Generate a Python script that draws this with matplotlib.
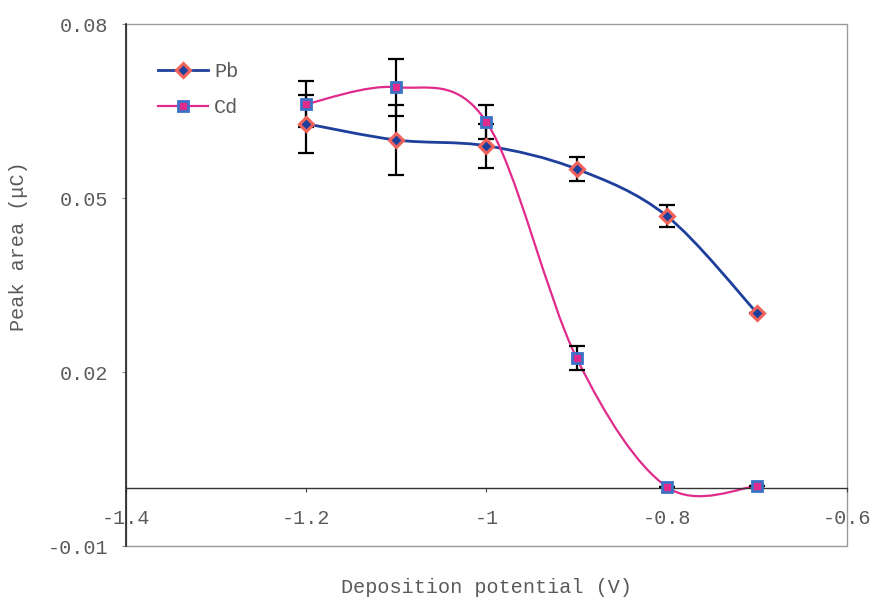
import numpy as np
import matplotlib
matplotlib.use("Agg")
import matplotlib.pyplot as plt
from matplotlib.path import Path
from matplotlib.patches import PathPatch, Rectangle
from matplotlib.lines import Line2D

# data
potential = [-1.2, -1.1, -1.0, -0.9, -0.8, -0.7]
pb_area = [0.0628, 0.0600, 0.0590, 0.0550, 0.0469, 0.0302]
pb_err = [0.0050, 0.0060, 0.0038, 0.0020, 0.0019, 0.0]
cd_area = [0.0662, 0.0691, 0.0631, 0.0224, 0.0002, 0.0003]
cd_err = [0.0040, 0.0049, 0.0030, 0.0020, 0.0, 0.0]

x_ticks = [-1.4, -1.2, -1.0, -0.8, -0.6]
x_labels = ["-1.4", "-1.2", "-1", "-0.8", "-0.6"]
y_ticks = [-0.01, 0.02, 0.05, 0.08]
y_labels = ["-0.01", "0.02", "0.05", "0.08"]

PB_LINE = "#1f3f9c"
PB_EDGE = "#f0625a"
CD_LINE = "#e02a8c"
CD_EDGE = "#3b72c6"
TEXT = "#5a5a5a"
FONT = "Liberation Mono"
FS = 14.5


def smooth_path(xs, ys):
    # Excel-style smoothed line: cubic Bezier with Catmull-Rom control points
    pts = np.column_stack([xs, ys])
    n = len(pts)
    verts = [pts[0]]
    codes = [Path.MOVETO]
    for i in range(n - 1):
        p0 = pts[max(i - 1, 0)]
        p1 = pts[i]
        p2 = pts[i + 1]
        p3 = pts[min(i + 2, n - 1)]
        verts += [p1 + (p2 - p0) / 6, p2 - (p3 - p1) / 6, p2]
        codes += [Path.CURVE4] * 3
    return Path(verts, codes)


fig = plt.figure(figsize=(8.73, 6), dpi=100)
ax = fig.add_axes([126 / 873, 54 / 600, 721 / 873, 522 / 600])
ax.set_xlim(-1.4, -0.6)
ax.set_ylim(-0.01, 0.08)

# plot box
ax.add_patch(Rectangle((0, 0), 1, 1, transform=ax.transAxes, fill=False,
                       edgecolor="#9a9a9a", linewidth=1.0, clip_on=False, zorder=0.5))
for s in ["top", "right"]:
    ax.spines[s].set_visible(False)
ax.spines["left"].set_color("#222222")
ax.spines["left"].set_linewidth(1.2)
ax.spines["bottom"].set_position(("data", 0))
ax.spines["bottom"].set_color("#333333")
ax.spines["bottom"].set_linewidth(1.0)

# smoothed lines
ax.add_patch(PathPatch(smooth_path(potential, pb_area), fill=False,
                       edgecolor=PB_LINE, linewidth=2.0, zorder=2))
ax.add_patch(PathPatch(smooth_path(potential, cd_area), fill=False,
                       edgecolor=CD_LINE, linewidth=1.6, zorder=2))

# error bars
ax.errorbar(potential, pb_area, yerr=pb_err, fmt="none", ecolor="black",
            elinewidth=1.6, capsize=5.5, capthick=1.6, zorder=3)
ax.errorbar(potential, cd_area, yerr=cd_err, fmt="none", ecolor="black",
            elinewidth=1.6, capsize=5.5, capthick=1.6, zorder=3)

# markers
ax.plot(potential, pb_area, linestyle="none", marker="D", markersize=7.5,
        markerfacecolor=PB_LINE, markeredgecolor=PB_EDGE, markeredgewidth=2.2, zorder=4)
ax.plot(potential, cd_area, linestyle="none", marker="s", markersize=7.5,
        markerfacecolor=CD_LINE, markeredgecolor=CD_EDGE, markeredgewidth=2.0, zorder=4)

# ticks
ax.set_xticks(x_ticks)
ax.set_xticklabels(x_labels)
ax.set_yticks(y_ticks)
ax.set_yticklabels(y_labels)
ax.tick_params(axis="x", direction="out", length=3, width=0.8, color="#444444",
               pad=12, labelsize=FS, labelcolor=TEXT)
ax.tick_params(axis="y", direction="out", length=3, width=0.8, color="#888888",
               pad=10, labelsize=FS, labelcolor=TEXT)
for lab in ax.get_xticklabels() + ax.get_yticklabels():
    lab.set_family(FONT)

ax.set_xlabel("Deposition potential (V)", family=FONT, fontsize=FS, color=TEXT)
ax.xaxis.set_label_coords(0.5, -0.062)
ax.set_ylabel("Peak area (\u03bcC)", family=FONT, fontsize=FS, color=TEXT)
ax.yaxis.set_label_coords(-0.136, 0.575)

# legend
handles = [
    Line2D([], [], color=PB_LINE, linewidth=2.0, marker="D", markersize=7.5,
           markerfacecolor=PB_LINE, markeredgecolor=PB_EDGE, markeredgewidth=2.2),
    Line2D([], [], color=CD_LINE, linewidth=1.6, marker="s", markersize=7.5,
           markerfacecolor=CD_LINE, markeredgecolor=CD_EDGE, markeredgewidth=2.0),
]
leg = ax.legend(handles, ["Pb", "Cd"], loc="upper left", bbox_to_anchor=(0.044, 0.928),
                frameon=False, borderpad=0, borderaxespad=0, handlelength=2.5,
                handletextpad=0.3, labelspacing=0.85,
                prop={"family": FONT, "size": FS})
for t in leg.get_texts():
    t.set_color(TEXT)

fig.savefig("out.png", dpi=100)
